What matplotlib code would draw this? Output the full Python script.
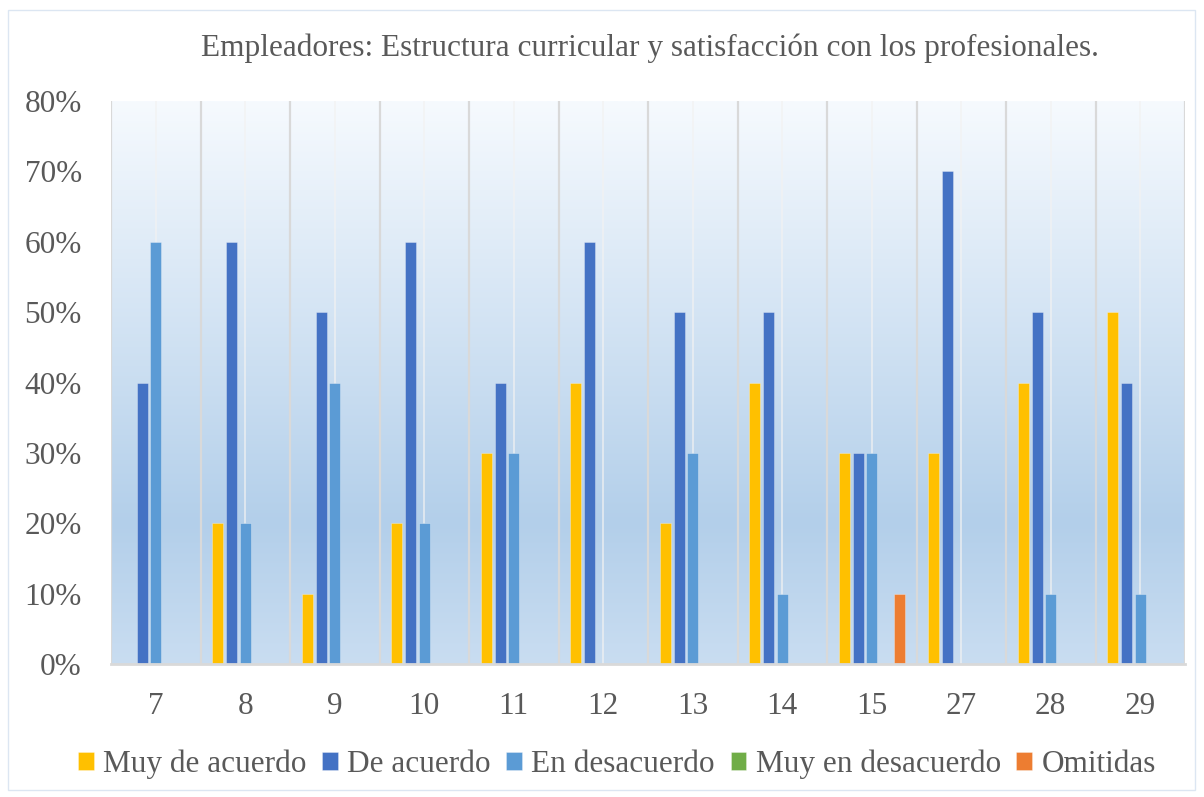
import matplotlib
matplotlib.use("Agg")
import matplotlib.pyplot as plt
import numpy as np
from matplotlib.colors import LinearSegmentedColormap
from matplotlib.patches import Rectangle

categories = ["7", "8", "9", "10", "11", "12", "13", "14", "15", "27", "28", "29"]
muy_de_acuerdo = [0, 20, 10, 20, 30, 40, 20, 40, 30, 30, 40, 50]
de_acuerdo = [40, 60, 50, 60, 40, 60, 50, 50, 30, 70, 50, 40]
en_desacuerdo = [60, 20, 40, 20, 30, 0, 30, 10, 30, 0, 10, 10]
muy_en_desacuerdo = [0, 0, 0, 0, 0, 0, 0, 0, 0, 0, 0, 0]
omitidas = [0, 0, 0, 0, 0, 0, 0, 0, 10, 0, 0, 0]

series_names = ["Muy de acuerdo", "De acuerdo", "En desacuerdo", "Muy en desacuerdo", "Omitidas"]
series_vals = [muy_de_acuerdo, de_acuerdo, en_desacuerdo, muy_en_desacuerdo, omitidas]
colors = ["#FFC000", "#4472C4", "#5B9BD5", "#70AD47", "#ED7D31"]

plt.rcParams['font.family'] = ['Liberation Serif', 'DejaVu Serif']
txt = "#595959"

fig = plt.figure(figsize=(12.04, 7.97), dpi=100)
ax = fig.add_axes([111/1204, 1-664/797, (1185-111)/1204, (664-101)/797])

n = len(categories)
x = np.arange(n)
ax.set_xlim(-0.5, n-0.5)
ax.set_ylim(0, 80)

# gradient background
cmap = LinearSegmentedColormap.from_list("bg", [(0, "#C9DDF1"), (0.25, "#B3CFEA"), (1.0, "#F6FAFE")])
grad = np.linspace(0, 1, 256).reshape(-1, 1)
ax.imshow(grad, aspect='auto', cmap=cmap, origin='lower',
          extent=(-0.5, n-0.5, 0, 80), zorder=0)

# gridlines
for b in np.arange(-0.5, n, 1.0):
    ax.axvline(b, color="#D9D9D9", lw=1.6, zorder=1)
for c in x:
    ax.axvline(c, color="#F2F2F2", lw=1.2, alpha=0.8, zorder=1)

step = 0.153
w = 0.123
for i, (name, vals, col) in enumerate(zip(series_names, series_vals, colors)):
    ax.bar(x + (i-2)*step, vals, width=w, color=col, label=name, zorder=3,
           edgecolor=(1, 1, 1, 0.35), linewidth=0.6)

for s in ["top", "right", "left"]:
    ax.spines[s].set_visible(False)
ax.spines["bottom"].set_color("#D9D9D9")
ax.spines["bottom"].set_linewidth(2)
ax.spines["bottom"].set_zorder(4)

ax.set_xticks(x)
ax.set_xticklabels(categories)
ax.set_yticks(np.arange(0, 81, 10))
ax.set_yticklabels([f"{v}%" for v in range(0, 81, 10)])
ax.tick_params(axis='both', length=0, labelsize=22.5, colors=txt)
ax.tick_params(axis='x', pad=20)
ax.tick_params(axis='y', pad=21)

fig.text(650/1204, 1-48/797, "Empleadores: Estructura curricular y satisfacción con los profesionales.",
         ha='center', va='center', fontsize=22.5, color=txt)

leg = fig.legend(loc='center', bbox_to_anchor=(617/1204, 1-764/797), ncol=5, frameon=False,
                 fontsize=22.5, handlelength=0.5, handleheight=0.5, handletextpad=0.3,
                 columnspacing=0.5, labelcolor=txt)

fig.patches.append(Rectangle((8/1204, 1-790/797), (1195-8)/1204, (790-10)/797,
                             transform=fig.transFigure, fill=False, edgecolor="#DCE6F2", lw=1))

fig.savefig("out.png", dpi=100)
